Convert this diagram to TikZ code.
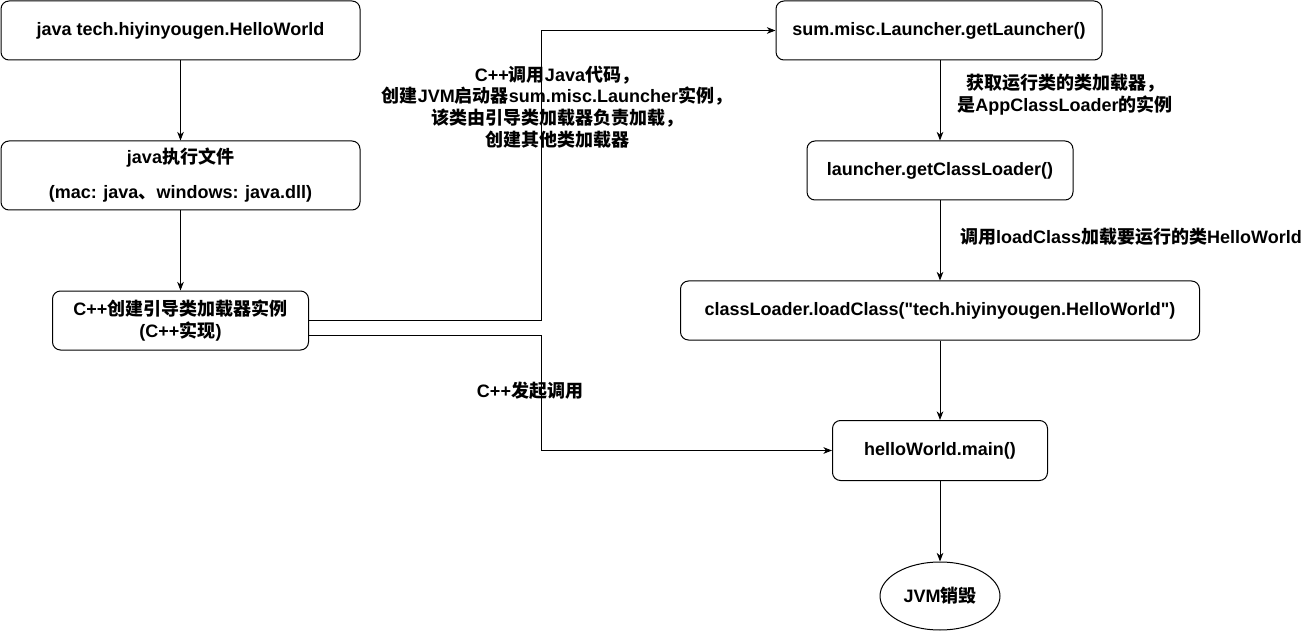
\documentclass[tikz,border=0pt]{standalone}
\usepackage{fontspec}
\setmainfont{Liberation Sans}[Ligatures=TeXOff]
\newfontfamily\cjkf{Noto Sans CJK SC}
\newcommand\zh[1]{{\cjkf #1}}
\usetikzlibrary{arrows.meta,shapes.geometric,calc}
\begin{document}
\begin{tikzpicture}[x=0.75pt,y=-0.75pt,
  every node/.style={font=\fontsize{13.5}{16.3}\selectfont\bfseries, align=center, inner sep=0pt},
  box/.style={draw, line width=0.75pt, rounded corners=6pt},
  ell/.style={draw, line width=0.75pt, ellipse},
  arr/.style={draw, line width=0.75pt, -{Stealth[length=6.5pt,width=5pt,inset=2pt]}},
  lbl/.style={}]
\useasboundingbox (0,0) rectangle (1311,631);
\node[box, minimum width=359*0.75pt, minimum height=59*0.75pt] (n1) at (180.5,30.5) {java tech.hiyinyougen.HelloWorld};
\node[box, minimum width=359*0.75pt, minimum height=69*0.75pt] (n2) at (180.5,175.5) {java\zh{执行文件}\\[10pt](mac: java\zh{、}windows: java.dll)};
\node[box, minimum width=256*0.75pt, minimum height=59*0.75pt] (n3) at (180.5,320.5) {C++\zh{创建引导类加载器实例}\\(C++\zh{实现})};
\node[box, minimum width=326*0.75pt, minimum height=59*0.75pt] (n4) at (939,30.5) {sum.misc.Launcher.getLauncher()};
\node[box, minimum width=266*0.75pt, minimum height=59*0.75pt] (n5) at (940,170.5) {launcher.getClassLoader()};
\node[box, minimum width=519*0.75pt, minimum height=59*0.75pt] (n6) at (940,310.5) {classLoader.loadClass("tech.hiyinyougen.HelloWorld")};
\node[box, minimum width=215*0.75pt, minimum height=60*0.75pt] (n7) at (940,450.5) {helloWorld.main()};
\node[ell, minimum width=120*0.75pt, minimum height=68*0.75pt] (n8) at (940,596) {JVM\zh{销毁}};

\node[lbl] (l1) at (557,107) {C++\zh{调用}Java\zh{代码，}\\\zh{创建}JVM\zh{启动器}sum.misc.Launcher\zh{实例，}\\\zh{该类由引导类加载器负责加载，}\\\zh{创建其他类加载器}};
\node[lbl] (l2) at (1065,95) {\zh{获取运行类的类加载器，}\\\zh{是}AppClassLoader\zh{的实例}};
\node[lbl] (l3) at (1131,237) {\zh{调用}loadClass\zh{加载要运行的类}HelloWorld};
\node[lbl] (l4) at (530,391) {C++\zh{发起调用}};

\coordinate (ex) at (541,0);
\coordinate (n3b) at ($(n3.east)+(0,15)$);
\draw[arr] (n1.south) -- (n2.north);
\draw[arr] (n2.south) -- (n3.north);
\draw[arr] (n3.east) -- (n3.east -| ex) |- (n4.west);
\draw[arr] (n3b) -- (n3b -| ex) |- (n7.west);
\draw[arr] (n4.south -| n5.north) -- (n5.north);
\draw[arr] (n5.south) -- (n6.north);
\draw[arr] (n6.south) -- (n7.north);
\draw[arr] (n7.south) -- (n8.north);
\end{tikzpicture}
\end{document}
